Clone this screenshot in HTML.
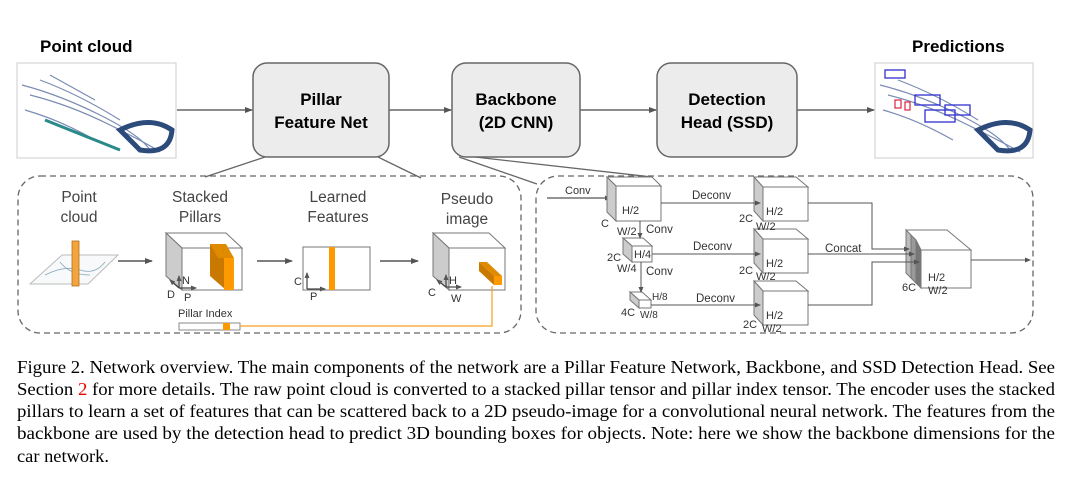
<!DOCTYPE html>
<html><head><meta charset="utf-8"><style>
body{margin:0;background:#fff;width:1072px;height:481px;overflow:hidden}
svg{display:block}
.b{font-family:"Liberation Sans",sans-serif;font-weight:bold;font-size:17px;fill:#000}
.s{font-family:"Liberation Sans",sans-serif;font-size:15.5px;fill:#444}
.t{font-family:"Liberation Sans",sans-serif;font-size:11px;fill:#333}
.cap{font-family:"Liberation Serif",serif;font-size:18px;fill:#000}
</style></head><body>
<svg width="1072" height="481" viewBox="0 0 1072 481">
<defs>
<marker id="a" markerWidth="8" markerHeight="8" refX="7" refY="4" orient="auto" markerUnits="userSpaceOnUse"><path d="M0,1 L8,4 L0,7z" fill="#555"/></marker>
<marker id="s" markerWidth="6" markerHeight="6" refX="5" refY="3" orient="auto" markerUnits="userSpaceOnUse"><path d="M0,0.5 L6,3 L0,5.5z" fill="#555"/></marker>
</defs>
<text class="b" x="40" y="52">Point cloud</text>
<text class="b" x="912" y="52">Predictions</text>
<g>
<rect x="17" y="63" width="159" height="95" fill="#fff" stroke="#ccc"/>
<g fill="none" stroke="#5a6fa0" stroke-width="1.2" opacity="0.8">
<path d="M22,85 Q60,95 100,115 T150,150"/><path d="M30,95 Q70,105 110,125 T160,152"/>
<path d="M40,80 Q80,95 120,120"/><path d="M25,110 Q60,120 95,140"/><path d="M50,75 L95,100"/>
</g>
<path d="M120,130 Q150,115 172,130 Q170,155 140,150 Z" fill="none" stroke="#2c4a7a" stroke-width="5"/>
<path d="M45,120 L120,150" stroke="#2a8a8a" stroke-width="3"/>
</g>
<g>
<rect x="875" y="63" width="158" height="95" fill="#fff" stroke="#ccc"/>
<g fill="none" stroke="#5a6fa0" stroke-width="1.2" opacity="0.8">
<path d="M880,85 Q920,95 960,115 T1010,150"/><path d="M888,95 Q928,105 968,125 T1020,152"/>
<path d="M898,80 Q938,95 978,120"/><path d="M883,110 Q918,120 953,140"/>
</g>
<path d="M978,130 Q1008,115 1030,130 Q1028,155 998,150 Z" fill="none" stroke="#2c4a7a" stroke-width="5"/>
<g fill="none" stroke="#3030d0" stroke-width="1.3"><rect x="885" y="70" width="20" height="8"/><rect x="915" y="95" width="25" height="10"/><rect x="945" y="105" width="25" height="10"/><rect x="925" y="110" width="30" height="12"/></g>
<g fill="none" stroke="#e02040" stroke-width="1.2"><rect x="895" y="100" width="6" height="8"/><rect x="905" y="102" width="5" height="8"/></g>
</g>
<g fill="#ececec" stroke="#666" stroke-width="1.5">
<rect x="253" y="63" width="136" height="94" rx="14"/>
<rect x="452" y="63" width="128" height="94" rx="14"/>
<rect x="657" y="63" width="140" height="94" rx="14"/>
</g>
<text class="b" x="321" y="105" text-anchor="middle">Pillar</text>
<text class="b" x="321" y="128" text-anchor="middle">Feature Net</text>
<text class="b" x="516" y="105" text-anchor="middle">Backbone</text>
<text class="b" x="516" y="128" text-anchor="middle">(2D CNN)</text>
<text class="b" x="727" y="105" text-anchor="middle">Detection</text>
<text class="b" x="727" y="128" text-anchor="middle">Head (SSD)</text>
<g stroke="#666" stroke-width="1.5" marker-end="url(#a)">
<line x1="177" y1="110" x2="252" y2="110"/><line x1="389" y1="110" x2="451" y2="110"/>
<line x1="580" y1="110" x2="656" y2="110"/><line x1="797" y1="110" x2="874" y2="110"/>
</g>
<g stroke="#666" stroke-width="1.3">
<line x1="265" y1="157" x2="205" y2="177"/><line x1="378" y1="157" x2="421" y2="178"/>
<line x1="459" y1="157" x2="537" y2="184"/><line x1="475" y1="157" x2="652" y2="177"/>
</g>
<g fill="none" stroke="#666" stroke-width="1.3" stroke-dasharray="6,4">
<rect x="18" y="176" width="503" height="157" rx="22"/>
<rect x="536" y="176" width="497" height="157" rx="22"/>
</g>
<text class="s" x="79" y="202" text-anchor="middle">Point</text>
<text class="s" x="79" y="222" text-anchor="middle">cloud</text>
<text class="s" x="200" y="202" text-anchor="middle">Stacked</text>
<text class="s" x="200" y="222" text-anchor="middle">Pillars</text>
<text class="s" x="338" y="202" text-anchor="middle">Learned</text>
<text class="s" x="338" y="222" text-anchor="middle">Features</text>
<text class="s" x="467" y="204" text-anchor="middle">Pseudo</text>
<text class="s" x="467" y="224" text-anchor="middle">image</text>
<path d="M30,284 L88,284 L118,255 L62,255 Z" fill="#f7f9fa" stroke="#bbb"/>
<path d="M45,275 Q65,265 80,270 T105,262 M60,262 Q70,275 90,275" fill="none" stroke="#8ab" stroke-width="0.8"/>
<rect x="72" y="241" width="7" height="45" fill="#f4a43a" stroke="#b07020" stroke-width="0.8"/>
<g stroke="#555" stroke-width="1.5" marker-end="url(#a)">
<line x1="118" y1="261" x2="152" y2="261"/><line x1="257" y1="261" x2="292" y2="261"/><line x1="380" y1="261" x2="418" y2="261"/>
</g>
<path d="M166,233 L226,233 L242,248 L182,248 Z" fill="#fff" stroke="#777"/>
<path d="M166,233 L182,248 L182,290 L166,276 Z" fill="#ccc" stroke="#777"/>
<rect x="182" y="248" width="60" height="42" fill="#fff" stroke="#777"/>
<path d="M210,244 L226,244 L226,290 L210,276 Z" fill="#c97800"/>
<rect x="224" y="258" width="10" height="32" fill="#f90"/>
<path d="M210,244 L218,258 L234,258 L226,244 Z" fill="#e08a00"/>
<g stroke="#444" stroke-width="1.2" marker-end="url(#s)"><line x1="179" y1="288" x2="179" y2="276"/><line x1="179" y1="288" x2="196" y2="288"/><line x1="179" y1="288" x2="170" y2="280"/></g>
<text class="t" x="182" y="284">N</text><text class="t" x="167" y="298">D</text><text class="t" x="184" y="301">P</text>
<rect x="303" y="247" width="67" height="43" fill="#fff" stroke="#777"/>
<rect x="329" y="247" width="6" height="43" fill="#f90"/>
<g stroke="#444" stroke-width="1.2" marker-end="url(#s)"><line x1="307" y1="289" x2="307" y2="273"/><line x1="307" y1="289" x2="325" y2="289"/></g>
<text class="t" x="294" y="285">C</text><text class="t" x="310" y="300">P</text>
<path d="M433,233 L489,233 L505,248 L449,248 Z" fill="#fff" stroke="#777"/>
<path d="M433,233 L449,248 L449,290 L433,276 Z" fill="#ccc" stroke="#777"/>
<rect x="449" y="248" width="56" height="42" fill="#fff" stroke="#777"/>
<path d="M479,262 L487,262 L502,276 L494,276 Z" fill="#e08a00"/>
<path d="M479,262 L494,276 L494,285 L479,271 Z" fill="#c97800"/>
<rect x="494" y="276" width="8" height="9" fill="#f90"/>
<g stroke="#444" stroke-width="1.2" marker-end="url(#s)"><line x1="446" y1="287" x2="446" y2="275"/><line x1="446" y1="287" x2="461" y2="287"/><line x1="446" y1="287" x2="437" y2="280"/></g>
<text class="t" x="449" y="284">H</text><text class="t" x="428" y="296">C</text><text class="t" x="451" y="302">W</text>
<text class="t" x="178" y="317" font-size="12">Pillar Index</text>
<rect x="179" y="323" width="61" height="7" fill="#fff" stroke="#888"/>
<rect x="223" y="323" width="7" height="7" fill="#f90"/>
<polyline points="240,326 492,326 492,286" fill="none" stroke="#f6a020" stroke-width="1.2"/>
<text class="t" x="565" y="194" font-size="11.5">Conv</text>
<line x1="547" y1="198" x2="610" y2="198" stroke="#555" stroke-width="1.2" marker-end="url(#s)"/>
<g stroke="#777" stroke-width="1">
<path d="M607,177 L652,177 L661,186 L616,186 Z" fill="#fff"/><path d="M607,177 L616,186 L616,221 L607,212Z" fill="#ccc"/><rect x="616" y="186" width="45" height="35" fill="#fff"/>
<path d="M623,238 L643,238 L652,246 L632,246 Z" fill="#fff"/><path d="M623,238 L632,246 L632,262 L623,254Z" fill="#ccc"/><rect x="632" y="246" width="20" height="16" fill="#fff"/>
<path d="M630,292 L642,292 L651,300 L639,300 Z" fill="#fff"/><path d="M630,292 L639,300 L639,308 L630,300Z" fill="#ccc"/><rect x="639" y="300" width="12" height="8" fill="#fff"/>
<path d="M754,177 L796,177 L808,187 L763,187 Z" fill="#fff"/><path d="M754,177 L763,187 L763,221 L754,211Z" fill="#ccc"/><rect x="763" y="187" width="45" height="34" fill="#fff"/>
<path d="M754,229 L796,229 L808,239 L763,239 Z" fill="#fff"/><path d="M754,229 L763,239 L763,273 L754,263Z" fill="#ccc"/><rect x="763" y="239" width="45" height="34" fill="#fff"/>
<path d="M754,281 L796,281 L808,291 L763,291 Z" fill="#fff"/><path d="M754,281 L763,291 L763,325 L754,315Z" fill="#ccc"/><rect x="763" y="291" width="45" height="34" fill="#fff"/>
<path d="M906,230 L947,230 L971,250 L920,250 Z" fill="#fff"/>
<path d="M906,230 L911,235 L911,278 L906,273Z" fill="#bbb"/>
<path d="M911,235 L916,240 L916,283 L911,278Z" fill="#999"/>
<path d="M916,240 L921,250 L921,288 L916,283Z" fill="#777"/>
<rect x="921" y="250" width="50" height="38" fill="#fff"/>
</g>
<g stroke="#555" stroke-width="1" fill="none">
<line x1="661" y1="203" x2="760" y2="203" marker-end="url(#s)"/>
<line x1="652" y1="254" x2="760" y2="254" marker-end="url(#s)"/>
<line x1="651" y1="305" x2="760" y2="305" marker-end="url(#s)"/>
<line x1="640" y1="221" x2="640" y2="238" marker-end="url(#s)"/>
<line x1="641" y1="262" x2="641" y2="292" marker-end="url(#s)"/>
<polyline points="808,203 872,203 872,249 909,249" marker-end="url(#s)"/>
<line x1="808" y1="254" x2="914" y2="254" marker-end="url(#s)"/>
<polyline points="808,305 872,305 872,262 919,262" marker-end="url(#s)"/>
<line x1="971" y1="260" x2="1030" y2="260" marker-end="url(#s)"/>
</g>
<g class="t">
<text x="622" y="214">H/2</text><text x="601" y="227">C</text><text x="617" y="235">W/2</text><text x="646" y="233" font-size="11.5">Conv</text>
<text x="634" y="258">H/4</text><text x="607" y="261">2C</text><text x="617" y="272">W/4</text><text x="646" y="275" font-size="11.5">Conv</text>
<text x="652" y="300" font-size="10">H/8</text><text x="621" y="316">4C</text><text x="640" y="318" font-size="10">W/8</text>
<text x="692" y="199" font-size="11.5">Deconv</text><text x="693" y="250" font-size="11.5">Deconv</text><text x="696" y="302" font-size="11.5">Deconv</text>
<text x="766" y="215">H/2</text><text x="739" y="222">2C</text><text x="756" y="230">W/2</text>
<text x="766" y="267">H/2</text><text x="739" y="274">2C</text><text x="756" y="280">W/2</text>
<text x="766" y="319">H/2</text><text x="743" y="328">2C</text><text x="762" y="332">W/2</text>
<text x="825" y="252" font-size="11.5">Concat</text>
<text x="928" y="281">H/2</text><text x="902" y="291">6C</text><text x="928" y="294">W/2</text>
</g>
<g class="cap">
<text x="17" y="373" textLength="1038" lengthAdjust="spacingAndGlyphs">Figure 2. Network overview. The main components of the network are a Pillar Feature Network, Backbone, and SSD Detection Head. See</text>
<text x="17" y="395" textLength="1038" lengthAdjust="spacingAndGlyphs">Section <tspan fill="#e00">2</tspan> for more details. The raw point cloud is converted to a stacked pillar tensor and pillar index tensor. The encoder uses the stacked</text>
<text x="17" y="417" textLength="1038" lengthAdjust="spacingAndGlyphs">pillars to learn a set of features that can be scattered back to a 2D pseudo-image for a convolutional neural network. The features from the</text>
<text x="17" y="439" textLength="1038" lengthAdjust="spacingAndGlyphs">backbone are used by the detection head to predict 3D bounding boxes for objects. Note: here we show the backbone dimensions for the</text>
<text x="17" y="462" textLength="92" lengthAdjust="spacingAndGlyphs">car network.</text>
</g>
</svg>
</body></html>
